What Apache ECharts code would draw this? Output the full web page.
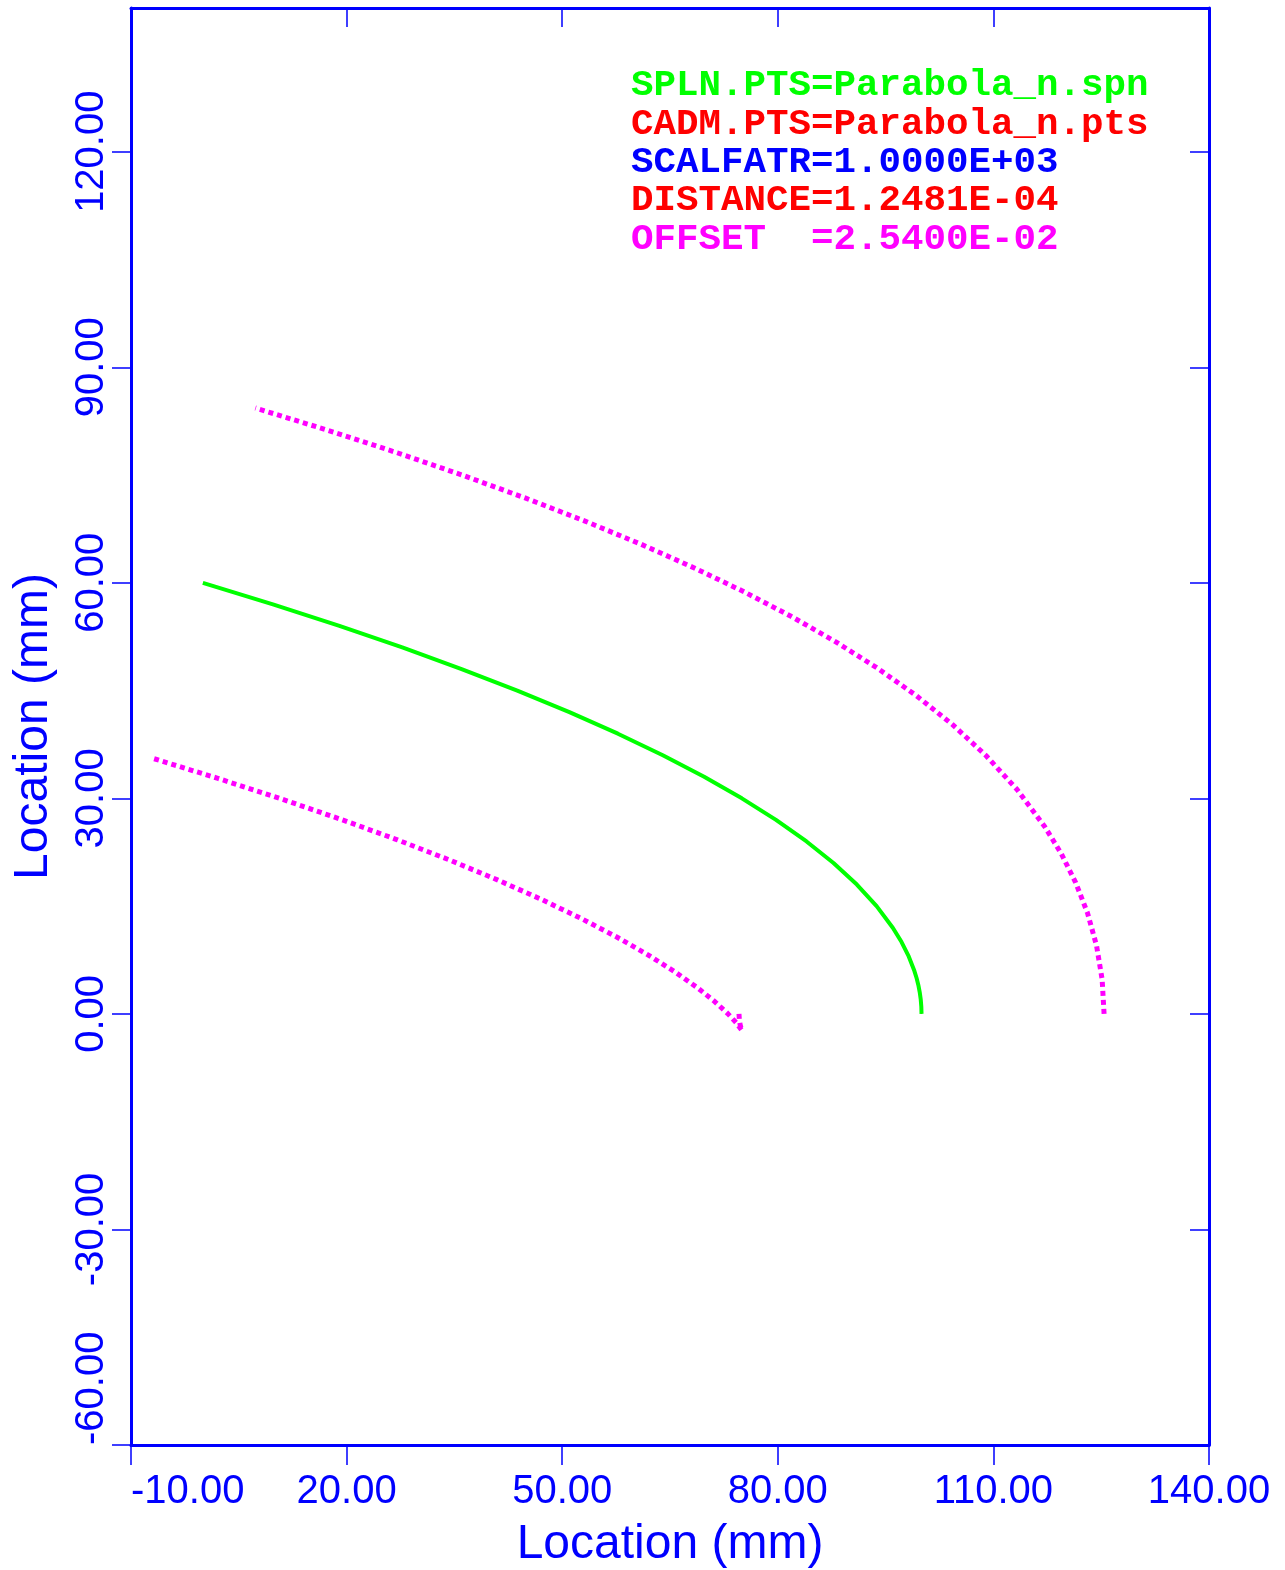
<!DOCTYPE html>
<html>
<head>
<meta charset="utf-8">
<script src="https://cdn.jsdelivr.net/npm/echarts@6/dist/echarts.min.js"></script>
<style>
html,body{margin:0;padding:0;background:#fff;}
#chart{width:1285px;height:1570px;}
</style>
</head>
<body>
<div id="chart"></div>
<script>
// ---- data ----
const xTicks = [-10, 20, 50, 80, 110, 140];
const yTicks = [-60, -30, 0, 30, 60, 90, 120];

// SPLN.PTS (green spline)
const splineX = [100, 99.97, 99.89, 99.75, 99.56, 99.31, 99.0, 98.22, 97.22, 96.0, 93.75, 91.0, 87.75, 84.0, 79.75, 75.0, 69.75, 64.0, 57.75, 51.0, 43.75, 36.0, 27.75, 19.0, 9.75, 0.0];
const splineY = [0, 1, 2, 3, 4, 5, 6, 8, 10, 12, 15, 18, 21, 24, 27, 30, 33, 36, 39, 42, 45, 48, 51, 54, 57, 60];

// CADM.PTS (red points, lying under the spline)
const cadmX = [100, 99.75, 99.0, 97.22, 93.75, 91.0, 87.75, 84.0, 79.75, 75.0];
const cadmY = [0, 3, 6, 10, 15, 18, 21, 24, 27, 30];

// OFFSET curves (magenta dotted)
const outerX = [125.4, 125.13, 124.35, 123.10, 121.43, 119.42, 117.13, 113.26, 108.96, 104.28, 99.24, 93.84, 88.07, 81.91, 75.36, 68.39, 61.01, 53.18, 44.92, 36.20, 27.03, 17.40, 7.30];
const outerY = [0, 4.81, 9.51, 14.03, 18.32, 22.34, 26.09, 31.26, 35.96, 40.29, 44.32, 48.13, 51.78, 55.30, 58.72, 62.06, 65.35, 68.58, 71.78, 74.95, 78.10, 81.22, 84.33];
const innerX = [74.6, 74.65, 74.76, 74.90, 75.01, 75.02, 74.87, 74.24, 73.04, 71.22, 68.76, 65.66, 61.93, 57.59, 52.64, 47.11, 40.99, 34.32, 27.08, 19.30, 10.97, 2.10, -7.30];
const innerY = [0, -0.81, -1.51, -2.03, -2.32, -2.34, -2.09, -1.26, 0.04, 1.72, 3.68, 5.87, 8.22, 10.70, 13.28, 15.94, 18.65, 21.42, 24.22, 27.05, 29.90, 32.78, 35.67];

const legendLines = [
  {text: 'SPLN.PTS=Parabola_n.spn', color: '#00ff00'},
  {text: 'CADM.PTS=Parabola_n.pts', color: '#ff0000'},
  {text: 'SCALFATR=1.0000E+03', color: '#0000ff'},
  {text: 'DISTANCE=1.2481E-04', color: '#ff0000'},
  {text: 'OFFSET  =2.5400E-02', color: '#ff00ff'}
];

const zip = (xs, ys) => xs.map((x, i) => [x, ys[i]]);

const BLUE = '#0000ff';
const FONT = 'Liberation Sans, Arial, sans-serif';

const chart = echarts.init(document.getElementById('chart'), null, {renderer: 'canvas'});

const option = {
  backgroundColor: '#ffffff',
  animation: false,
  grid: {left: 131, right: 76, top: 8, bottom: 125, containLabel: false, outerBoundsMode: 'none'},
  xAxis: [
    {
      type: 'value', min: -10, max: 140, position: 'bottom',
      name: 'Location (mm)', nameLocation: 'middle', nameGap: 76,
      nameTextStyle: {color: BLUE, fontSize: 48, fontFamily: FONT},
      axisLine: {show: true, onZero: false, lineStyle: {color: BLUE, width: 3}},
      axisTick: {show: true, inside: false, length: 20, customValues: xTicks, lineStyle: {color: BLUE, width: 1.5}},
      axisLabel: {show: true, customValues: xTicks, margin: 27, color: BLUE, fontSize: 40, fontFamily: FONT,
        formatter: v => v.toFixed(2), alignMinLabel: 'left'},
      splitLine: {show: false}
    },
    {
      type: 'value', min: -10, max: 140, position: 'top',
      axisLine: {show: true, onZero: false, lineStyle: {color: BLUE, width: 3}},
      axisTick: {show: true, inside: true, length: 19, customValues: xTicks, lineStyle: {color: BLUE, width: 1.5}},
      axisLabel: {show: false},
      splitLine: {show: false}
    }
  ],
  yAxis: [
    {
      type: 'value', min: -60, max: 140, position: 'left',
      name: 'Location (mm)', nameLocation: 'middle', nameGap: 73,
      nameTextStyle: {color: BLUE, fontSize: 48, fontFamily: FONT},
      axisLine: {show: true, onZero: false, lineStyle: {color: BLUE, width: 3}},
      axisTick: {show: true, inside: false, length: 19, customValues: yTicks, lineStyle: {color: BLUE, width: 1.5}},
      axisLabel: {show: true, customValues: yTicks, rotate: 90, margin: 19, color: BLUE, fontSize: 40, fontFamily: FONT,
        formatter: v => v.toFixed(2), alignMinLabel: 'left'},
      splitLine: {show: false}
    },
    {
      type: 'value', min: -60, max: 140, position: 'right',
      axisLine: {show: true, onZero: false, lineStyle: {color: BLUE, width: 3}},
      axisTick: {show: true, inside: true, length: 19, customValues: yTicks, lineStyle: {color: BLUE, width: 1.5}},
      axisLabel: {show: false},
      splitLine: {show: false}
    }
  ],
  series: [
    {
      name: 'CADM', type: 'line', xAxisIndex: 0, yAxisIndex: 0, data: zip(cadmX, cadmY),
      showSymbol: false, smooth: false, silent: true,
      lineStyle: {color: '#ff0000', width: 1}
    },
    {
      name: 'SPLN', type: 'line', xAxisIndex: 0, yAxisIndex: 0, data: zip(splineX, splineY),
      showSymbol: false, smooth: false, silent: true,
      lineStyle: {color: '#00ff00', width: 4}
    },
    {
      name: 'OFFSET outer', type: 'line', xAxisIndex: 0, yAxisIndex: 0, data: zip(outerX, outerY),
      showSymbol: false, smooth: false, silent: true,
      lineStyle: {color: '#ff00ff', width: 5, type: [5, 4], cap: 'butt'}
    },
    {
      name: 'OFFSET inner', type: 'line', xAxisIndex: 0, yAxisIndex: 0, data: zip(innerX, innerY),
      showSymbol: false, smooth: false, silent: true,
      lineStyle: {color: '#ff00ff', width: 5, type: [5, 4], cap: 'butt'}
    }
  ],
  graphic: legendLines.map((l, i) => ({
    type: 'text', left: 631, top: 86 + i * 38.3 - 19,
    silent: true,
    style: {text: l.text, fill: l.color, font: 'bold 37.5px "Liberation Mono", "Courier New", monospace'}
  }))
};

chart.setOption(option);
</script>
</body>
</html>
